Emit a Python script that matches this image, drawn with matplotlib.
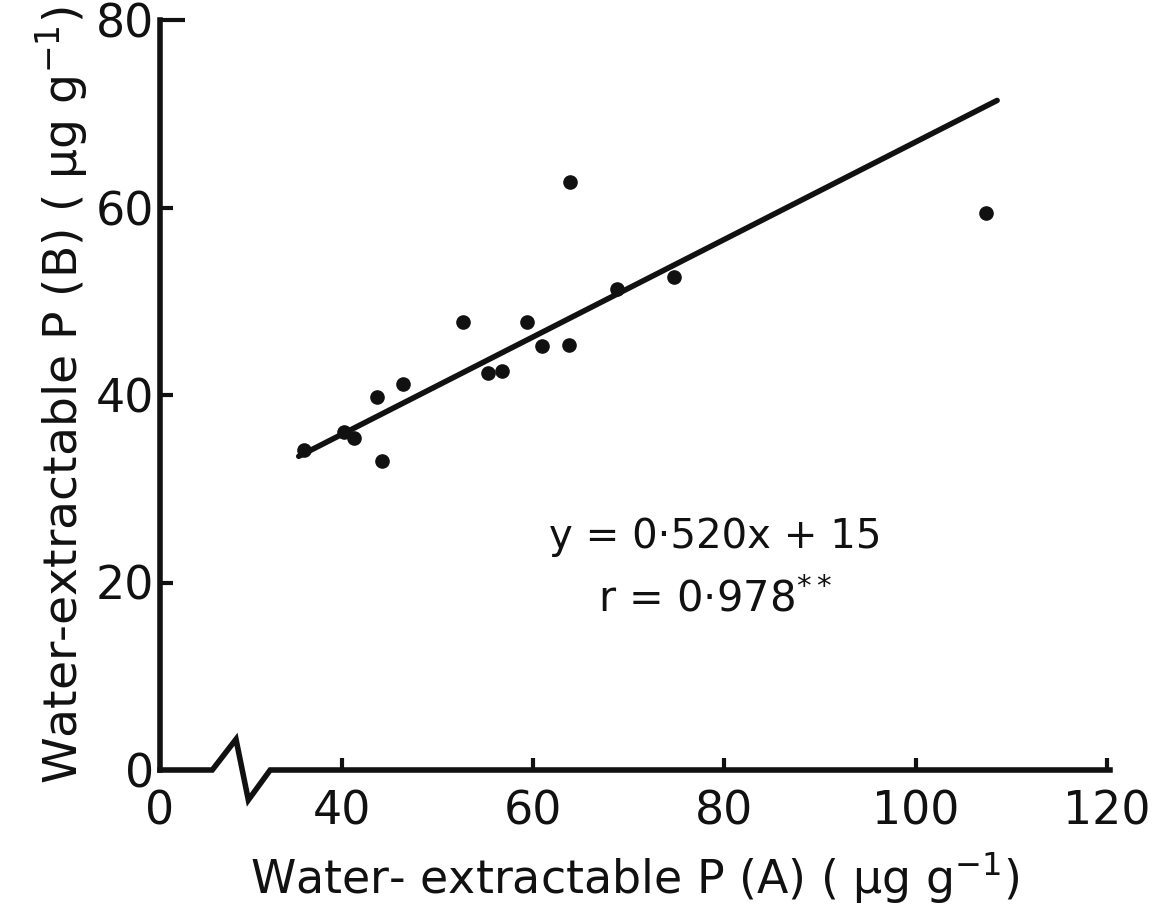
import numpy as np
import matplotlib
matplotlib.use("Agg")
import matplotlib.pyplot as plt
import matplotlib.transforms as mtransforms

# data
p_a = [36.0, 40.2, 41.3, 43.7, 44.2, 46.4, 52.7, 55.3, 56.8, 59.4,
       60.9, 63.7, 63.9, 68.8, 74.7, 107.3]
p_b = [34.1, 36.1, 35.4, 39.8, 33.0, 41.2, 47.8, 42.3, 42.6, 47.8,
       45.2, 45.3, 62.7, 51.3, 52.6, 59.4]
slope = 0.520
intercept = 15
line_x = [35.5, 108.5]
xticks = [0, 40, 60, 80, 100, 120]
yticks = [0, 20, 40, 60, 80]

# broken x axis: squeeze 0-30 into a short stretch
def fwd(x):
    x = np.asarray(x, dtype=float)
    return np.where(x < 30, 21 + 0.3 * x, x)

def inv(x):
    x = np.asarray(x, dtype=float)
    return np.where(x < 30, (x - 21) / 0.3, x)

fig = plt.figure(figsize=(11.7, 9.11), dpi=100)
ax = fig.add_axes([160/1170, 1 - 770/911, 950/1170, 750/911])
ax.set_xscale('function', functions=(fwd, inv))
ax.set_xlim(0, 120.3)
ax.set_ylim(0, 80)

ax.plot(p_a, p_b, 'o', color='#111111', ms=9.5, clip_on=False)
lx = np.array(line_x)
ax.plot(lx, slope * lx + intercept, color='#111111', lw=4, solid_capstyle='round')

# axes look
for s in ['top', 'right', 'bottom']:
    ax.spines[s].set_visible(False)
ax.spines['left'].set_linewidth(4)
ax.spines['left'].set_color('#111111')

# x axis line drawn by hand with the break zigzag
tr = mtransforms.blended_transform_factory(ax.transAxes, ax.transAxes)
bx = [0, 0.055, 0.080, 0.093, 0.116, 1.0]
by = [0, 0, 0.041, -0.040, 0, 0]
ax.plot(bx, by, color='#111111', lw=4, transform=tr, clip_on=False,
        solid_joinstyle='miter')

ax.set_xticks(xticks)
ax.set_xticklabels([str(t) for t in xticks])
ax.set_yticks(yticks)
ax.tick_params(axis='both', direction='in', length=9, width=3, color='#111111',
               labelsize=33, labelcolor='#111111')
ax.tick_params(axis='x', pad=14)
ax.tick_params(axis='y', pad=4)
ax.xaxis.get_major_ticks()[0].tick1line.set_visible(False)
ax.yaxis.get_major_ticks()[0].tick1line.set_visible(False)
ax.yaxis.get_major_ticks()[-1].tick1line.set_markersize(18)

ax.set_xlabel('Water- extractable P (A) ( μg g$^{-1}$)', fontsize=33,
              color='#111111', labelpad=12)
ax.set_ylabel('Water-extractable P (B) ( μg g$^{-1}$)', fontsize=34,
              color='#111111', labelpad=4)

ax.text(0.584, 0.311, 'y = 0·520x + 15', transform=ax.transAxes, fontsize=29,
        ha='center', va='center', color='#111111')
ax.text(0.584, 0.227, 'r = 0·978$^{**}$', transform=ax.transAxes, fontsize=30,
        ha='center', va='center', color='#111111')

fig.savefig('out.png', dpi=100, facecolor='white')
